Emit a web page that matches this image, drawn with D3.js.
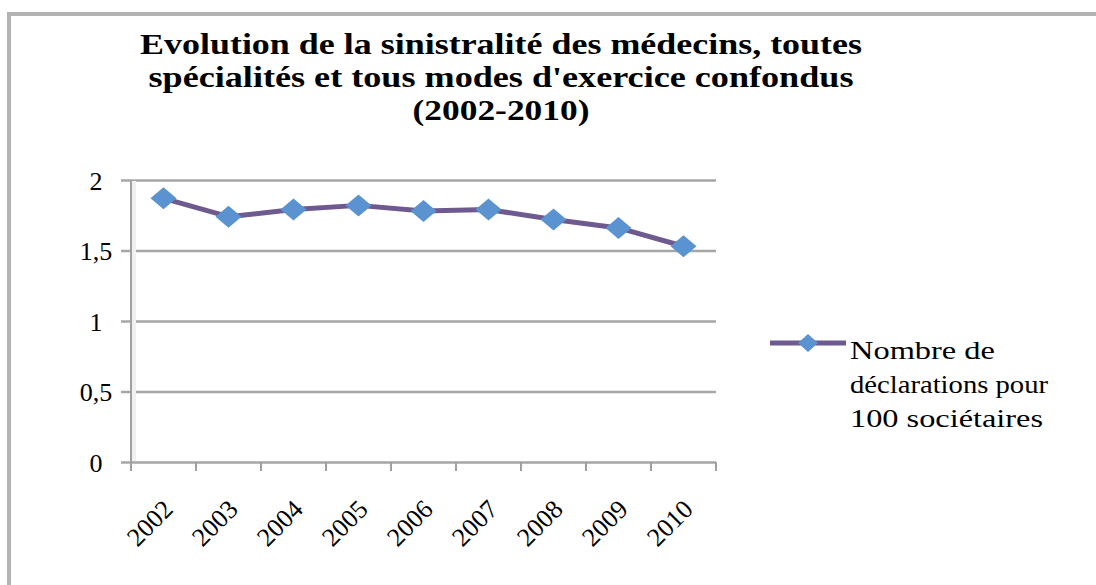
<!DOCTYPE html>
<html><head><meta charset="utf-8">
<script src="https://cdn.jsdelivr.net/npm/d3@7"></script>
<style>body{margin:0;background:#fff}svg{display:block}</style>
</head><body>
<svg id="c" width="1096" height="585"></svg>
<script>
const years = ["2002","2003","2004","2005","2006","2007","2008","2009","2010"];
const values = [1.87, 1.74, 1.79, 1.82, 1.78, 1.79, 1.72, 1.66, 1.53];
const yTicks = [0, 0.5, 1, 1.5, 2];
const yTickLabels = ["0", "0,5", "1", "1,5", "2"];
const titleLines = ["Evolution de la sinistralité des médecins, toutes",
  "spécialités et tous modes d'exercice confondus", "(2002-2010)"];
const legendLines = ["Nombre de", "déclarations pour", "100 sociétaires"];
const seriesName = legendLines.join(" ");

const svg = d3.select("#c");
const serif = "Liberation Serif, Tinos, DejaVu Serif, Times New Roman, serif";
const lineColor = "#6e5a8e", markerColor = "#5b93d0", gridColor = "#a6a6a6";

svg.append("rect").attr("x",9).attr("y",14).attr("width",1100).attr("height",600)
  .attr("fill","none").attr("stroke","#b3b3b3").attr("stroke-width",4);

const x = d3.scaleBand().domain(years).range([131,716]);
const y = d3.scaleLinear().domain([0,2]).range([462,180]);

const yAxis = d3.axisLeft(y).tickValues(yTicks).tickSize(-(716-121)).tickFormat((d,i)=>yTickLabels[i]);
const gy = svg.append("g").attr("transform","translate(121,0)").call(yAxis);
gy.select(".domain").remove();
gy.selectAll(".tick line").attr("stroke",gridColor).attr("stroke-width",2.5);
gy.selectAll(".tick text").attr("x",-25).attr("text-anchor","middle")
  .attr("font-family",serif).attr("font-size",26).attr("fill","#000").attr("dy","0.35em");

svg.append("line").attr("x1",131).attr("x2",131).attr("y1",180).attr("y2",470)
  .attr("stroke","#a0a0a0").attr("stroke-width",2);
svg.append("rect").attr("x",132).attr("y",181).attr("width",4).attr("height",280).attr("fill","#f0f0f0");

const bounds = years.map(d=>x(d)).concat([x.range()[1]]);
svg.append("g").attr("transform","translate(0,462)")
  .selectAll("line").data(bounds).join("line")
  .attr("x1",d=>d).attr("x2",d=>d).attr("y1",0).attr("y2",9)
  .attr("stroke","#a0a0a0").attr("stroke-width",2);

svg.append("g").selectAll("text").data(years).join("text")
  .attr("transform",d=>`translate(${x(d)+x.bandwidth()/2-2},${498}) rotate(-45)`)
  .attr("text-anchor","end").attr("dy","0.7em")
  .attr("font-family",serif).attr("font-size",26).attr("fill","#000")
  .text(d=>d);

const cx = d=>x(d)+x.bandwidth()/2;
const line = d3.line().x((d,i)=>cx(years[i])).y(d=>y(d));
svg.append("path").datum(values).attr("d",line).attr("fill","none")
  .attr("stroke",lineColor).attr("stroke-width",5).attr("stroke-linejoin","round");

const diamond = (w,h)=>`M0,${-h}L${w},0L0,${h}L${-w},0Z`;
svg.append("g").selectAll("path").data(values).join("path")
  .attr("transform",(d,i)=>`translate(${cx(years[i])},${y(d)})`)
  .attr("d",diamond(13,11)).attr("fill",markerColor);

const titleW = [722, 705, 177];
svg.append("g").selectAll("text").data(titleLines).join("text")
  .attr("x",501).attr("y",(d,i)=>54+i*33)
  .attr("text-anchor","middle").attr("font-family",serif).attr("font-weight","bold")
  .attr("font-size",30).attr("fill","#000")
  .attr("textLength",(d,i)=>titleW[i]).attr("lengthAdjust","spacingAndGlyphs")
  .text(d=>d);

const lg = svg.append("g").attr("aria-label",seriesName);
lg.append("line").attr("x1",770).attr("x2",846).attr("y1",343).attr("y2",343)
  .attr("stroke",lineColor).attr("stroke-width",5);
lg.append("path").attr("transform","translate(808,343)").attr("d",diamond(10,9)).attr("fill",markerColor);
const legW = [145, 198, 193];
lg.selectAll("text").data(legendLines).join("text")
  .attr("x",850).attr("y",(d,i)=>359+i*34)
  .attr("font-family",serif).attr("font-size",25).attr("fill","#000")
  .attr("textLength",(d,i)=>legW[i]).attr("lengthAdjust","spacingAndGlyphs")
  .text(d=>d);
</script>
</body></html>
